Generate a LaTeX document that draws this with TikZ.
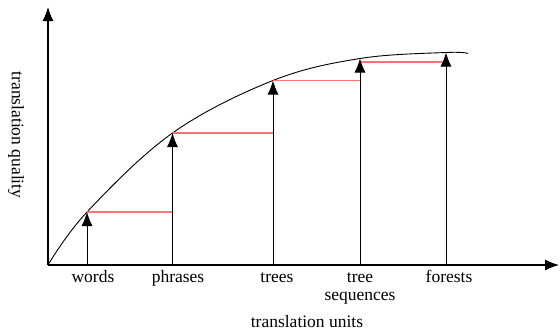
\documentclass[tikz,border=0pt]{standalone}
\usepackage{fontspec}
\setmainfont{Liberation Serif}
\usetikzlibrary{arrows.meta}
\definecolor{gainred}{RGB}{255,115,115}
\begin{document}
\begin{tikzpicture}[x=1pt, y=-1pt, font=\fontsize{17.5}{18}\selectfont,
    axis/.style={-{Latex[length=14pt,width=11pt]}, line width=1.1pt},
    unit/.style={-{Latex[length=14pt,width=11pt]}, line width=0.9pt},
    gain/.style={draw=gainred, line width=1.2pt},
    unitlabel/.style={anchor=base, align=center, inner sep=0pt}]
  \useasboundingbox (0,0) rectangle (560,332);

  \coordinate (o) at (48,265);
  \coordinate (ytop) at (48,7);
  \coordinate (xend) at (559,265);

  % feet and tips of the unit arrows
  \coordinate (w0) at (87,265);  \coordinate (w1) at (87,212);
  \coordinate (p0) at (172.5,265); \coordinate (p1) at (172.5,133);
  \coordinate (t0) at (273,265); \coordinate (t1) at (273,80.5);
  \coordinate (s0) at (360,265); \coordinate (s1) at (360,58.5);
  \coordinate (f0) at (446,265); \coordinate (f1) at (446,52.5);
  \coordinate (cend) at (468,53.5);
  \coordinate (s2) at (360,62);

  \draw[line width=0.9pt] plot[smooth, tension=0.6] coordinates {(o) (w1) (p1) (t1) (s1) (f1) (cend)};

  \draw[gain] (w1) -- (w1 -| p0);
  \draw[gain] (p1) -- (p1 -| t0);
  \draw[gain] (t1) -- (t1 -| s0);
  \draw[gain] (s2) -- (s2 -| f0);

  \draw[unit] (w0) -- (w1);
  \draw[unit] (p0) -- (p1);
  \draw[unit] (t0) -- (t1);
  \draw[unit] (s0) -- (s1);
  \draw[unit] (f0) -- (f1);

  \draw[axis] (o) -- (ytop);
  \draw[axis] (o) -- (xend);

  \node[unitlabel] (words) at (93,282) {words};
  \node[unitlabel] (phrases) at (178,282) {phrases};
  \node[unitlabel] (trees) at (277,282) {trees};
  \node[unitlabel] (treeseq) at (360,300) {tree\\sequences};
  \node[unitlabel] (forests) at (449,282) {forests};

  \node[anchor=base, inner sep=0pt] (xlabel) at (307,327) {translation units};
  \node[rotate=-90, inner sep=0pt] (ylabel) at (16,135) {translation quality};
\end{tikzpicture}
\end{document}
